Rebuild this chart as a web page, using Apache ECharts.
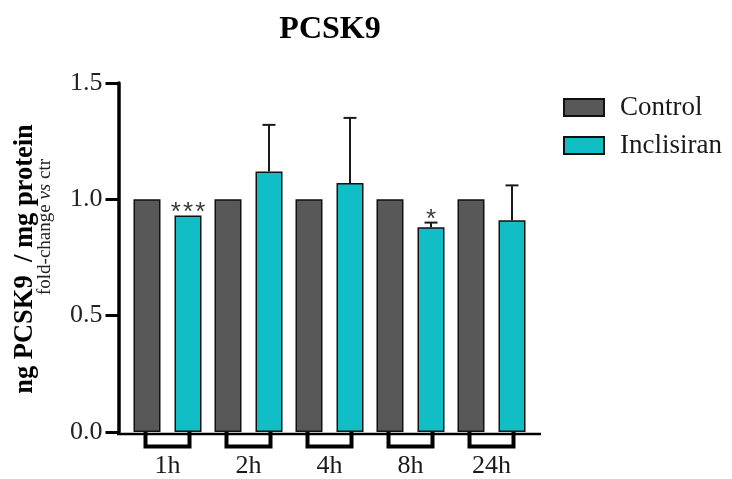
<!DOCTYPE html>
<html>
<head>
<meta charset="utf-8">
<script src="https://cdn.jsdelivr.net/npm/echarts@6/dist/echarts.min.js"></script>
<style>
  html, body { margin: 0; padding: 0; background: #fff; }
  #chart { width: 732px; height: 479px; }
</style>
</head>
<body>
<div id="chart"></div>
<script>
// PCSK9 protein, fold-change vs control, per time point
const categories = ['1h', '2h', '4h', '8h', '24h'];
const controlValues = [1.0, 1.0, 1.0, 1.0, 1.0];
const inclisiranValues = [0.93, 1.12, 1.07, 0.88, 0.91];
const inclisiranError = [0.0, 0.20, 0.28, 0.02, 0.15];
const significance = ['***', '', '', '*', ''];
const yTickValues = [0.0, 0.5, 1.0, 1.5];

const SERIF = '"Liberation Serif", "Times New Roman", serif';
const CONTROL_COLOR = '#585858';
const INCLISIRAN_COLOR = '#12bec5';
const BAR_WIDTH = 27;
const BAR_GAP_PX = 14;

const chart = echarts.init(document.getElementById('chart'), null, { renderer: 'canvas' });

// error bars (upward only) + significance stars for the Inclisiran bars
function renderErrorBar(params, api) {
  const idx = api.value(0);
  const mean = api.value(1);
  const err = api.value(2);
  const shift = (BAR_WIDTH + BAR_GAP_PX) / 2;
  const top = api.coord([idx, mean]);
  const hi = api.coord([idx, mean + err]);
  const x = top[0] + shift;
  const children = [];
  if (err > 0) {
    children.push({
      type: 'line',
      shape: { x1: x, y1: top[1], x2: x, y2: hi[1] },
      style: { stroke: '#1a1a1a', lineWidth: 2 }
    });
    children.push({
      type: 'line',
      shape: { x1: x - 6.5, y1: hi[1], x2: x + 6.5, y2: hi[1] },
      style: { stroke: '#1a1a1a', lineWidth: 2 }
    });
  }
  const mark = significance[idx];
  if (mark) {
    children.push({
      type: 'text',
      style: {
        x: x,
        y: hi[1] + 10,
        text: mark.split('').join('\u200A'),
        textAlign: 'center',
        textVerticalAlign: 'bottom',
        fontFamily: 'Liberation Sans, Arial, sans-serif',
        fontSize: 26,
        fill: '#3a3a3a'
      }
    });
  }
  return { type: 'group', children: children };
}

// bracket hanging under the baseline for each time point
function renderBracket(params, api) {
  const idx = api.value(0);
  const base = api.coord([idx, 0]);
  const cx = base[0];
  const y0 = base[1];
  return {
    type: 'polyline',
    shape: {
      points: [[cx - 22, y0], [cx - 22, y0 + 14.5], [cx + 22, y0 + 14.5], [cx + 22, y0]]
    },
    style: { stroke: '#000', lineWidth: 4, fill: null, lineJoin: 'miter' }
  };
}

const option = {
  backgroundColor: '#fff',
  animation: false,
  title: {
    text: 'PCSK9',
    left: 325,
    top: 9,
    textAlign: 'center',
    textStyle: { fontFamily: SERIF, fontWeight: 'bold', fontSize: 32, color: '#000' }
  },
  legend: {
    orient: 'vertical',
    left: 558,
    top: 89,
    itemWidth: 40,
    itemHeight: 17,
    itemGap: 11,
    icon: 'rect',
    data: ['Control', 'Inclisiran'],
    textStyle: { fontFamily: SERIF, fontSize: 27, color: '#1a1a1a', padding: [0, 0, 0, 11] }
  },
  grid: { left: 127, top: 83, width: 405, height: 351 },
  xAxis: {
    type: 'category',
    data: categories,
    axisLine: { show: false },
    axisTick: { show: false },
    axisLabel: { margin: 21, fontFamily: SERIF, fontSize: 26, color: '#1a1a1a' }
  },
  yAxis: {
    type: 'value',
    min: yTickValues[0],
    max: yTickValues[yTickValues.length - 1],
    interval: 0.5,
    offset: 8.5,
    splitLine: { show: false },
    axisLine: { show: true, lineStyle: { color: '#000', width: 3.5 } },
    axisTick: { show: true, length: 13, lineStyle: { color: '#000', width: 3 } },
    axisLabel: {
      margin: 16,
      fontFamily: SERIF,
      fontSize: 26,
      color: '#222',
      formatter: v => v.toFixed(1)
    }
  },
  graphic: [
    {
      type: 'line',
      shape: { x1: 117, y1: 434, x2: 541, y2: 434 },
      style: { stroke: '#000', lineWidth: 2.5 },
      z: 10
    },
    {
      type: 'text',
      x: 25,
      y: 259,
      rotation: Math.PI / 2,
      style: {
        text: 'ng PCSK9  / mg protein',
        textAlign: 'center',
        textVerticalAlign: 'middle',
        fontFamily: SERIF,
        fontWeight: 'bold',
        fontSize: 26.5,
        fill: '#000'
      }
    },
    {
      type: 'text',
      x: 45,
      y: 227,
      rotation: Math.PI / 2,
      style: {
        rich: {
          n: { fontFamily: SERIF, fontSize: 19, fill: '#222' },
          i: { fontFamily: SERIF, fontSize: 19, fontStyle: 'italic', fill: '#222' }
        },
        text: '{n|fold-change }{i|vs}{n| ctr}',
        textAlign: 'center',
        textVerticalAlign: 'middle'
      }
    }
  ],
  series: [
    {
      name: 'Control',
      type: 'bar',
      data: controlValues,
      barWidth: BAR_WIDTH,
      barGap: (BAR_GAP_PX / BAR_WIDTH * 100).toFixed(1) + '%',
      itemStyle: { color: CONTROL_COLOR, borderColor: '#111', borderWidth: 1.5 }
    },
    {
      name: 'Inclisiran',
      type: 'bar',
      data: inclisiranValues,
      barWidth: BAR_WIDTH,
      itemStyle: { color: INCLISIRAN_COLOR, borderColor: '#111', borderWidth: 1.5 }
    },
    {
      name: 'error',
      type: 'custom',
      renderItem: renderErrorBar,
      data: categories.map((c, i) => [i, inclisiranValues[i], inclisiranError[i]]),
      z: 5,
      silent: true
    },
    {
      name: 'bracket',
      type: 'custom',
      renderItem: renderBracket,
      clip: false,
      data: categories.map((c, i) => [i, 0]),
      z: 10,
      silent: true
    }
  ]
};

chart.setOption(option);
</script>
</body>
</html>
